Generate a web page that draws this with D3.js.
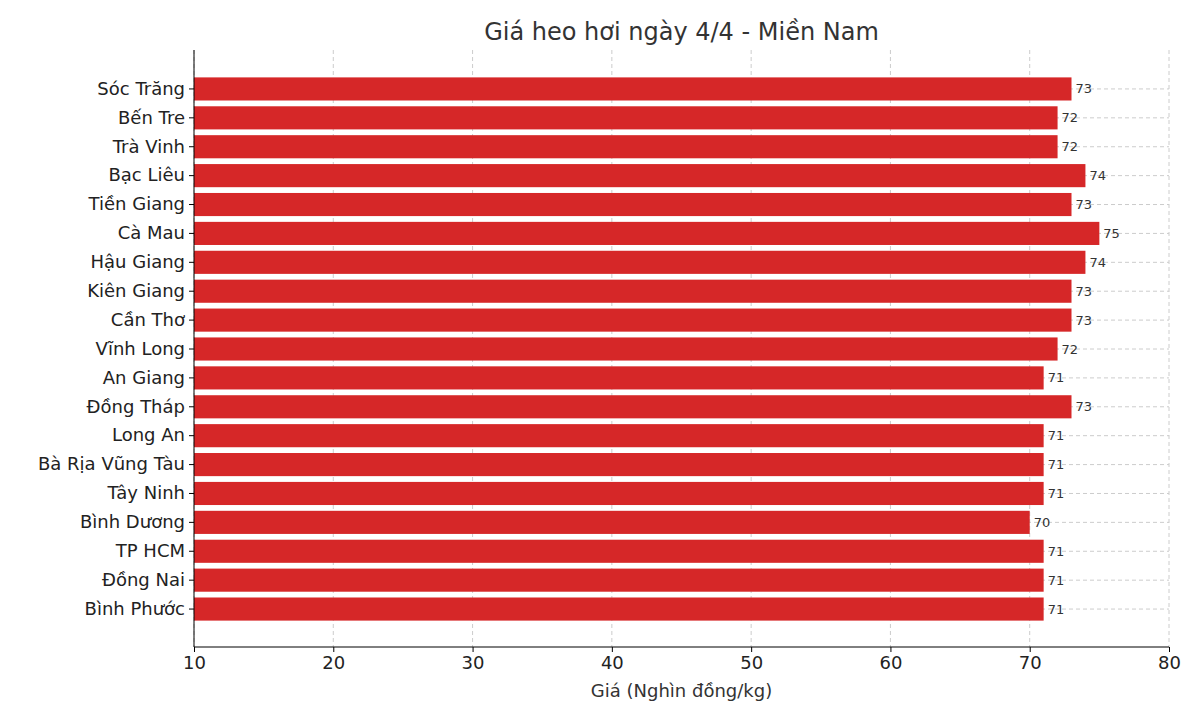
<!DOCTYPE html>
<html><head><meta charset="utf-8">
<script src="https://cdn.jsdelivr.net/npm/d3@7"></script>
<style>body{margin:0;background:#fff;font-family:"DejaVu Sans",sans-serif}</style>
</head><body><svg id="c" width="1200" height="720"></svg>
<script>
const provinces=["Sóc Trăng","Bến Tre","Trà Vinh","Bạc Liêu","Tiền Giang","Cà Mau","Hậu Giang","Kiên Giang","Cần Thơ","Vĩnh Long","An Giang","Đồng Tháp","Long An","Bà Rịa  Vũng Tàu","Tây Ninh","Bình Dương","TP HCM","Đồng Nai","Bình Phước"];
const prices=[73,72,72,74,73,75,74,73,73,72,71,73,71,71,71,70,71,71,71];
const xTicks=[10,20,30,40,50,60,70,80];
const svg=d3.select("#c");
const L=194,R=1169,T=50,B=647;
const x=d3.scaleLinear().domain([10,80]).range([L,R]);
const y=d3.scaleBand().domain(provinces).range([74.5,623.5]).paddingInner(0.2).paddingOuter(0.1);
const g=svg.append("g");
// grid
g.selectAll(".vg").data(xTicks).join("line").attr("x1",d=>x(d)).attr("x2",d=>x(d)).attr("y1",T).attr("y2",B)
 .attr("stroke","#ccc").attr("stroke-dasharray","4,3");
g.selectAll(".hg").data(provinces).join("line").attr("x1",L).attr("x2",R).attr("y1",d=>y(d)+y.bandwidth()/2).attr("y2",d=>y(d)+y.bandwidth()/2)
 .attr("stroke","#ccc").attr("stroke-dasharray","4,3");
g.selectAll(".bar").data(provinces).join("rect").attr("x",L).attr("y",d=>y(d)).attr("height",y.bandwidth())
 .attr("width",(d,i)=>x(prices[i])-L).attr("fill","#d62728");
g.selectAll(".lbl").data(provinces).join("text").attr("x",(d,i)=>x(prices[i])+4).attr("y",d=>y(d)+y.bandwidth()/2)
 .attr("dy","0.35em").attr("font-size",13).attr("fill","#333").text((d,i)=>prices[i]);
// axes
const ax=svg.append("g").attr("transform",`translate(0,${B})`).call(d3.axisBottom(x).tickValues(xTicks).tickSize(5).tickPadding(4));
ax.select(".domain").remove();
ax.selectAll("text").attr("font-size",18).attr("fill","#222").attr("font-family","DejaVu Sans");
const ay=svg.append("g").attr("transform",`translate(${L},0)`).call(d3.axisLeft(y).tickSize(5).tickPadding(4));
ay.select(".domain").remove();
ay.selectAll("text").attr("font-size",18).attr("fill","#222").attr("font-family","DejaVu Sans");
svg.append("line").attr("x1",L).attr("x2",L).attr("y1",T).attr("y2",B).attr("stroke","#000");
svg.append("line").attr("x1",L).attr("x2",R).attr("y1",B).attr("y2",B).attr("stroke","#000");
svg.append("text").attr("x",(L+R)/2).attr("y",40).attr("text-anchor","middle").attr("font-size",24).attr("fill","#333").text("Giá heo hơi ngày 4/4 - Miền Nam");
svg.append("text").attr("x",(L+R)/2).attr("y",697).attr("text-anchor","middle").attr("font-size",18).attr("fill","#333").text("Giá (Nghìn đồng/kg)");
</script></body></html>
